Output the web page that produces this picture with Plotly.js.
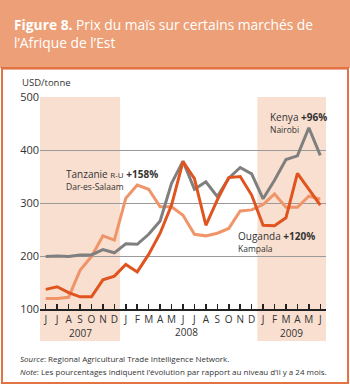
<!DOCTYPE html>
<html>
<head>
<meta charset="utf-8">
<script src="https://cdn.plot.ly/plotly-3.0.1.min.js"></script>
<style>
  html, body { margin: 0; padding: 0; background: #fff; }
  #chart { width: 350px; height: 385px; }
</style>
</head>
<body>
<div id="chart"></div>
<script>
// juin 2007 -> juin 2009, USD/tonne
const mois = ['J','J','A','S','O','N','D','J','F','M','A','M','J','J','A','S','O','N','D','J','F','M','A','M','J'];
const annees = ['2007', '2008', '2009'];
const kenya = [199, 200, 199, 202, 202, 212, 206, 223, 222, 241, 266, 337, 379, 326, 340, 312, 347, 367, 355, 308, 343, 382, 389, 442, 390];
const tanzanie = [120, 120, 122, 173, 199, 238, 230, 309, 334, 326, 293, 293, 277, 241, 238, 243, 252, 285, 287, 297, 317, 292, 292, 313, 307];
const ouganda = [137, 142, 131, 123, 123, 155, 162, 184, 170, 203, 243, 296, 378, 346, 258, 306, 348, 350, 315, 258, 257, 272, 356, 325, 296];

const idx = mois.map((_, i) => i);

// pixel -> paper helpers (plot area 40..326 x 97..309)
const px = x => (x - 40) / 286;
const py = y => (309 - y) / 212;

const serie = (y, color) => ({
    x: idx, y: y, type: 'scatter', mode: 'lines',
    line: { color: color, width: 3 },
    hoverinfo: 'skip'
});

const data = [
    serie(tanzanie, '#F0956A'),
    serie(kenya, '#7F7F7F'),
    serie(ouganda, '#E0541F')
];

const txt = '#333333';
const note = (x, y, text, size) => ({
    xref: 'paper', yref: 'paper', x: px(x), y: py(y), xanchor: 'left', yanchor: 'middle',
    showarrow: false, font: { size: size, color: txt }, text: text
});
const etiquette = (x, y, text, size) => ({
    xref: 'x', yref: 'y', x: x, y: y, xanchor: 'left', yanchor: 'middle',
    showarrow: false, font: { size: size, color: txt }, text: text
});
const annee = (x, y, text) => ({
    xref: 'x', yref: 'paper', x: x, y: py(y), xanchor: 'center', yanchor: 'middle',
    showarrow: false, font: { size: 10, color: txt }, text: text
});

const layout = {
    width: 350, height: 385,
    margin: { l: 40, r: 24, t: 97, b: 76 },
    paper_bgcolor: '#ffffff',
    plot_bgcolor: 'rgba(0,0,0,0)',
    font: { family: 'Open Sans, sans-serif', color: txt },
    showlegend: false,
    xaxis: {
        range: [-0.5, 24.5], tickvals: idx, ticktext: mois,
        ticks: 'inside', ticklen: 5, tickwidth: 1.5, tickcolor: '#222',
        showline: true, linecolor: '#222', linewidth: 2,
        showgrid: false, zeroline: false, fixedrange: true,
        tickfont: { size: 10, color: txt }
    },
    yaxis: {
        range: [100, 500], tickvals: [100, 200, 300, 400, 500],
        showgrid: true, gridcolor: '#9a9a9a', gridwidth: 1,
        zeroline: false, ticks: '', fixedrange: true,
        tickfont: { size: 11, color: txt }
    },
    shapes: [
        // périodes ombrées
        { type: 'rect', xref: 'x', yref: 'paper', x0: -0.5, x1: 6.5, y0: py(341), y1: 1,
          fillcolor: '#F9DFD0', line: { width: 0 }, layer: 'below' },
        { type: 'rect', xref: 'x', yref: 'paper', x0: 18.5, x1: 24.5, y0: py(341), y1: 1,
          fillcolor: '#F9DFD0', line: { width: 0 }, layer: 'below' },
        // bandeau du titre
        { type: 'rect', xref: 'paper', yref: 'paper', x0: px(0), x1: px(350), y0: py(68), y1: py(0),
          fillcolor: '#EDA077', line: { width: 0 }, layer: 'below' },
        { type: 'line', xref: 'paper', yref: 'paper', x0: px(2), x1: px(348), y0: py(68.5), y1: py(68.5),
          line: { color: '#DD5F2C', width: 2 } },
        // cadre
        { type: 'rect', xref: 'paper', yref: 'paper', x0: px(2), x1: px(348), y0: py(383), y1: py(68),
          line: { color: '#E27444', width: 2 } }
    ],
    annotations: [
        { xref: 'paper', yref: 'paper', x: px(12), y: py(13), xanchor: 'left', yanchor: 'top', align: 'left',
          showarrow: false, font: { size: 13.8, color: '#ffffff' },
          text: '<b>Figure 8.</b> Prix du maïs sur certains marchés de<br>l’Afrique de l’Est' },
        note(20, 82, 'USD/tonne', 9.5),
        // étiquettes des séries
        etiquette(1.6, 354, 'Tanzanie <span style="font-size:8px">R-U</span> <b>+158%</b>', 10),
        etiquette(1.6, 331, 'Dar-es-Salaam', 8.5),
        etiquette(19.43, 462, 'Kenya <b>+96%</b>', 10),
        etiquette(19.43, 439, 'Nairobi', 8.5),
        etiquette(16.63, 237, 'Ouganda <b>+120%</b>', 10),
        etiquette(16.63, 214, 'Kampala', 8.5),
        // années
        annee(3, 333, annees[0]),
        annee(12.3, 332, annees[1]),
        annee(21.5, 333, annees[2]),
        // source et note
        note(18, 358, '<i>Source</i>: Regional Agricultural Trade Intelligence Network.', 8),
        note(18, 371, '<i>Note</i>: Les pourcentages indiquent l’évolution par rapport au niveau d’il y a 24 mois.', 8)
    ]
};

Plotly.newPlot('chart', data, layout, { staticPlot: true, displayModeBar: false });
</script>
</body>
</html>
